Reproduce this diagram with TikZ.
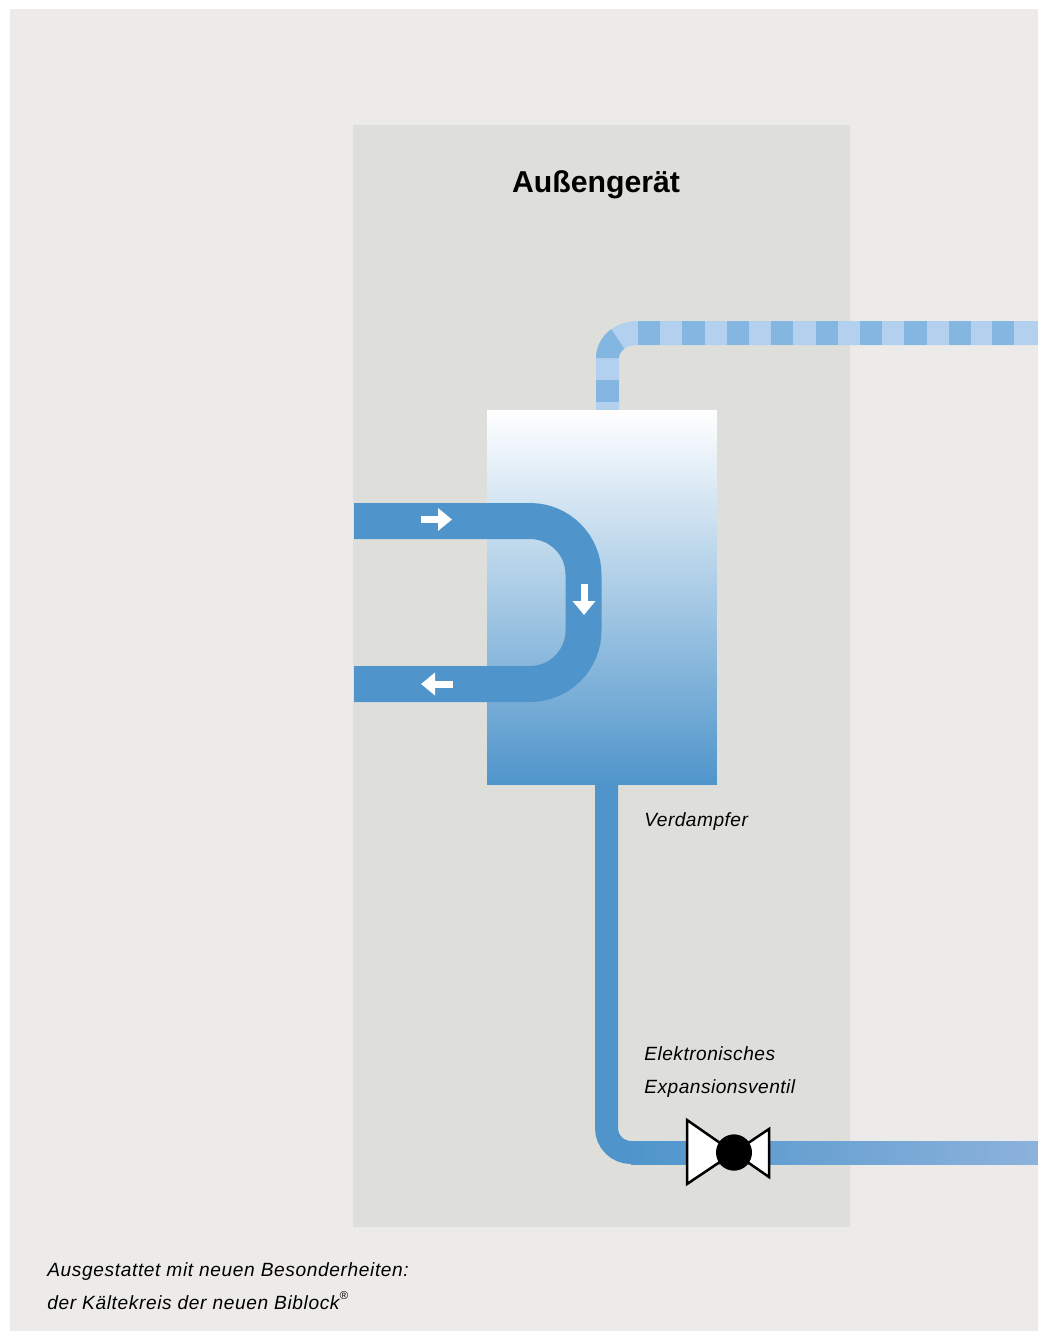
\documentclass[tikz,border=0pt]{standalone}
\usepackage{fontspec}
\setmainfont{Liberation Sans}
\usetikzlibrary{arrows.meta,positioning}
\definecolor{rahmen}{HTML}{ECEBE9}
\definecolor{geraet}{HTML}{DEDFDA}
\definecolor{kalt}{HTML}{4F95CB}
\definecolor{mittel}{HTML}{B0C6E6}
\definecolor{warm}{HTML}{8CB2DC}
\definecolor{gashell}{HTML}{B4D0EF}
\definecolor{gasdunkel}{HTML}{84B6E2}
\tikzset{flaeche/.style={draw=none,inner sep=0pt,outer sep=0pt},
 titel/.style={font=\fontsize{17.2}{20}\selectfont\bfseries},
 note/.style={align=left,inner sep=0pt,font=\fontsize{10.9}{18.8}\selectfont\itshape\addfontfeatures{LetterSpace=2.5}},
 fussnote/.style={note,font=\fontsize{10.9}{18.9}\selectfont\itshape\addfontfeatures{LetterSpace=3.2}},
 verdampferbox/.style={flaeche,minimum width=4.6cm,minimum height=7.5cm,
 top color=white,middle color=mittel,bottom color=kalt},
 leitung/.style={draw=kalt,line width=0.46cm,rounded corners=0.49cm},
 schleife/.style={draw=kalt,line width=0.72cm,rounded corners=1.07cm},
 pfeil/.style={draw=white,line width=0.14cm,-{Triangle[length=0.28cm,width=0.44cm]}},
 ventilkreis/.style={circle,fill=black,minimum size=0.72cm,inner sep=0pt}}
\begin{document}
\begin{tikzpicture}[x=0.02cm,y=-0.02cm]
\useasboundingbox (0,0) rectangle (1038,1332);
\fill[rahmen] (10,9) rectangle (1038,1331);
\node[flaeche,fill=geraet,minimum width=9.94cm,minimum height=22.04cm] (aussen) at (601.5,676) {};
\node[titel] (titel) at (596,185) {Außengerät};
\fill[gashell] (596,411)--(596,358) .. controls (596,337.6) and (614.4,321) .. (637,321)
 --(1038,321)--(1038,345)--(637,345) .. controls (627,345) and (619,350.8) .. (619,358)
 --(619,411)--cycle;
\fill[gasdunkel] (596,358) .. controls (596,346.4) and (602,336) .. (611.3,329.2)--(624.2,348.9)
 .. controls (621,351.2) and (619,354.4) .. (619,358)--cycle;
\fill[gasdunkel] (596,380) rectangle (619,402);
\foreach \x in {638,682.4,726.8,771.2,815.6,860,904.4,948.8,992.2}
 \fill[gasdunkel] (\x,321) rectangle ++(22.2,24);
\node[verdampferbox] (verdampfer) at (602,597.5) {};
\coordinate (ein) at (354,521);
\coordinate (aus) at (354,684);
\coordinate (bogen) at (583.5,602);
\draw[schleife] (ein)--(ein-|bogen)--(aus-|bogen)--(aus);
\coordinate (p1a) at (421,519.5);
\coordinate (p1b) at (452,519.5);
\coordinate (p2a) at (584,584);
\coordinate (p2b) at (584,615);
\coordinate (p3a) at (453,684);
\coordinate (p3b) at (421,684);
\draw[pfeil] (p1a)--(p1b);
\draw[pfeil] (p2a)--(p2b);
\draw[pfeil] (p3a)--(p3b);
\node[ventilkreis] (ventil) at (734,1152.5) {};
\coordinate (fuss) at (606.5,785);
\draw[leitung] (fuss)|-(ventil);
\node[flaeche,minimum width=8.14cm,minimum height=0.46cm,left color=kalt,right color=warm]
 (auslass) at (834.5,1152.5) {};
\draw[line width=0.05cm,fill=white,line join=miter] (687,1120)--(769,1177)--(769,1129)--(687,1184)--cycle;
\node[ventilkreis] at (ventil) {};
\node[note,anchor=base west] (lverdampfer) at (644,826) {Verdampfer};
\node[note,anchor=west] (lventil) at (644,1072) {Elektronisches\\Expansionsventil};
\node[fussnote,anchor=west] (lunten) at (47,1286.5) {Ausgestattet mit neuen Besonderheiten:\\der Kältekreis der neuen Biblock\raisebox{1.0ex}{\fontsize{6.5}{6.5}\selectfont\textregistered}};
\end{tikzpicture}
\end{document}
